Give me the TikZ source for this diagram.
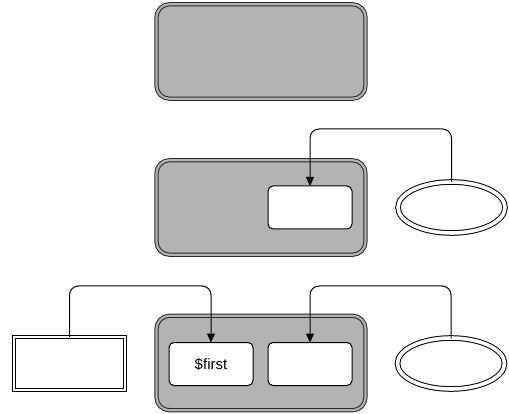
\documentclass[tikz,border=0pt]{standalone}
\usepackage{fontspec}
\setmainfont{Liberation Sans}
\usetikzlibrary{shapes.geometric,arrows.meta}
\definecolor{boxgray}{HTML}{B3B3B3}
\tikzset{
  graybox/.style={draw=black!85, line width=1pt, double=boxgray, double distance=2.2pt, fill=boxgray,
    rounded corners=13pt, minimum width=209pt, minimum height=94.5pt, inner sep=0pt, outer sep=0pt},
  whitebox/.style={draw=black, line width=1pt, fill=white, rounded corners=5pt,
    minimum width=84pt, minimum height=43pt, inner sep=0pt, outer sep=0pt, font=\fontsize{15}{17}\selectfont},
  dellipse/.style={ellipse, draw=black, line width=1pt, double=white, double distance=3.6pt,
    minimum width=107pt, minimum height=51pt, inner sep=0pt, outer sep=0pt},
  drect/.style={draw=black, line width=0.9pt, double=white, double distance=2pt,
    minimum width=111.5pt, minimum height=53.5pt, inner sep=0pt, outer sep=0pt},
  conn/.style={draw=black, line width=1pt, rounded corners=9pt, -{Stealth[length=9pt,width=8pt,inset=0pt]}}
}
\begin{document}
\begin{tikzpicture}[x=1pt,y=-1pt]
\useasboundingbox (0,0) rectangle (509,414);
% top
\node[graybox] (g1) at (261,51.5) {};
% middle
\node[graybox] (g2) at (261,207.5) {};
\node[whitebox] (w1) at (310,207.5) {};
\node[dellipse] (e1) at (451.5,207.5) {};
\coordinate (c1) at (310,129);
\draw[conn] (e1.north) -- (e1.north |- c1) -- (c1) -- (w1.north);
% bottom
\node[graybox] (g3) at (261,363) {};
\node[whitebox] (w2) at (211,364) {\$first};
\node[whitebox] (w3) at (310,364) {};
\node[drect] (r1) at (69.5,363.5) {};
\node[dellipse] (e2) at (451,363.5) {};
\coordinate (c2) at (211,286);
\coordinate (c3) at (310,286);
\draw[conn] (r1.north) -- (r1.north |- c2) -- (c2) -- (w2.north);
\draw[conn] (e2.north) -- (e2.north |- c3) -- (c3) -- (w3.north);
\end{tikzpicture}
\end{document}
